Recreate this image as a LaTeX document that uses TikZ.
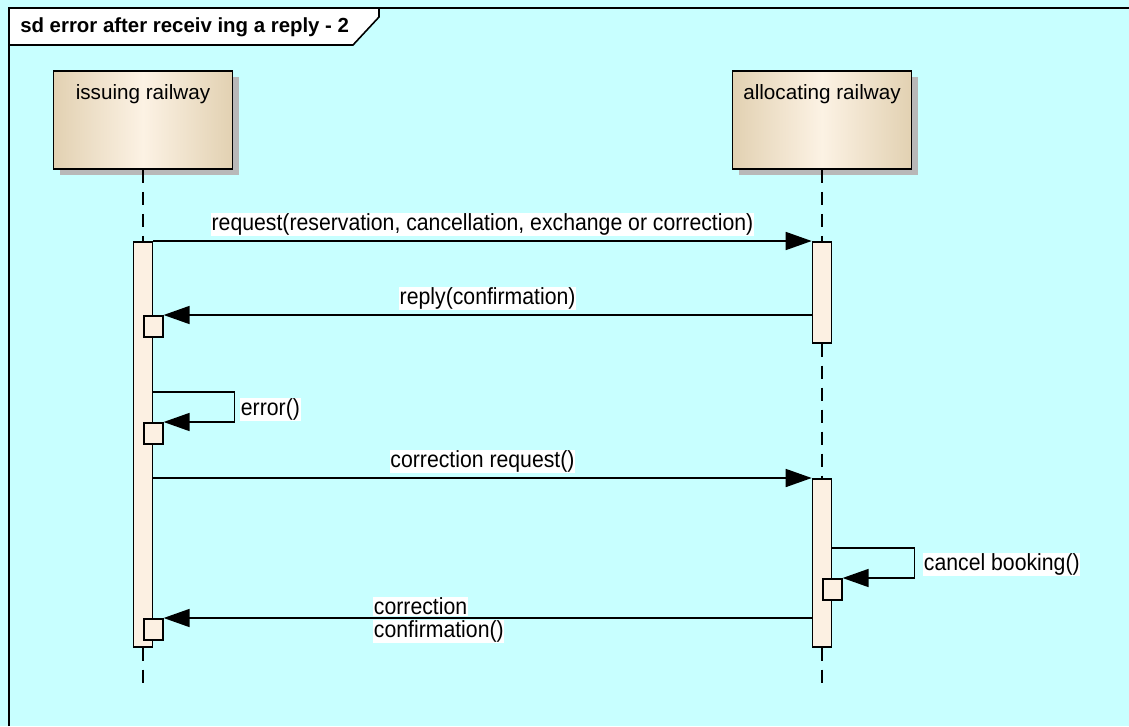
\documentclass[tikz,border=0pt]{standalone}
\usepackage{fontspec}
\setmainfont{Liberation Sans}
\newfontfamily\msgfont[FakeStretch=0.91]{Liberation Sans}
\usetikzlibrary{positioning, shadows, calc, arrows.meta}

\begin{document}
\begin{tikzpicture}[x=0.75pt,y=-0.75pt,
  actor/.style={draw=black,line width=1.2pt,minimum width=134.25pt,minimum height=73.5pt,inner sep=0pt,
    left color=boxEdge,right color=boxEdge,middle color=boxMid,
    drop shadow={shadow xshift=4.5pt,shadow yshift=-4.5pt,fill=black!28,opacity=1}},
  actorText/.style={font=\fontsize{15.5pt}{18pt}\selectfont,inner sep=0pt},
  lifeline/.style={draw=black,line width=1.2pt,dash pattern=on 9.75pt off 6.75pt},
  bar/.style={draw=black,line width=1.2pt,fill=barFill,minimum width=14.25pt,inner sep=0pt},
  execBox/.style={bar,minimum height=15.75pt},
  msg/.style={draw=black,line width=1.2pt,-{Triangle[length=19.5pt,width=13.5pt]}},
  msgText/.style={fill=white,inner sep=0.5pt,font=\msgfont\fontsize{17.5pt}{20pt}\selectfont},
  titleText/.style={font=\fontsize{15.3pt}{18pt}\selectfont\bfseries,inner sep=0pt,anchor=west}]
\definecolor{bgCyan}{RGB}{200,255,255}
\definecolor{boxEdge}{RGB}{226,209,178}
\definecolor{boxMid}{RGB}{252,242,228}
\definecolor{barFill}{RGB}{252,240,226}

\path[use as bounding box,fill=bgCyan] (0,0) rectangle (1129,726);

% frame and title
\path[draw=black,line width=1.2pt] (9,726) -- (9,8) -- (1129,8);
\path[draw=black,line width=1.2pt,fill=white] (9,8) -- (379,8) -- (379,17) -- (353,45) -- (9,45) -- cycle;
\node[titleText] (title) at (20,27) {sd error after receiv ing a reply - 2};

% lifeline heads
\node[actor] (issuing) at (143,120) {};
\node[actorText, below=10.5pt of issuing.north] (issuingLabel) {issuing railway};
\node[actor] (allocating) at (822,120) {};
\node[actorText, below=10.5pt of allocating.north] (allocatingLabel) {allocating railway};

% activations
\node[bar, minimum height=303.75pt, anchor=north] (issBar) at (143,241) {};
\node[bar, minimum height=75.75pt, anchor=north] (allocBarA) at (822,241) {};
\node[bar, minimum height=126pt, anchor=north] (allocBarB) at (822,478) {};
\coordinate (issEnd) at (143,685);
\coordinate (allocEnd) at (822,685);

% lifelines
\path[lifeline] (issuing.south) -- (issBar.north);
\path[lifeline] (issBar.south) -- (issEnd);
\path[lifeline] (allocating.south) -- (allocBarA.north);
\path[lifeline] (allocBarA.south) -- (allocBarB.north);
\path[lifeline] (allocBarB.south) -- (allocEnd);

% redraw bars over dashes
\node[bar, minimum height=303.75pt, anchor=north] at (143,241) {};
\node[bar, minimum height=75.75pt, anchor=north] at (822,241) {};
\node[bar, minimum height=126pt, anchor=north] at (822,478) {};

\node[execBox, anchor=north west] (replyBox) at (143,315) {};
\node[execBox, anchor=north west] (errorBox) at (143,422) {};
\node[execBox, anchor=north west] (confirmBox) at (143,618) {};
\node[execBox, anchor=north west] (cancelBox) at (822,578) {};

% messages
\draw[msg] (issBar.north east) -- (allocBarA.north west)
  node[msgText, midway, above=3pt] (requestLabel) {request(reservation, cancellation, exchange or correction)};
\draw[msg] (allocBarA.west |- replyBox.north) -- (replyBox.north east)
  node[msgText, midway, above=3pt] (replyLabel) {reply(confirmation)};
\draw[msg] ([yshift=22.5pt]errorBox.north -| issBar.east) -- ++(81,0) |- (errorBox.north east);
\node[msgText, anchor=south west] (errorLabel) at (240,421) {error()};
\draw[msg] (allocBarB.north west -| issBar.east) -- (allocBarB.north west)
  node[msgText, midway, above=3pt] (corrReqLabel) {correction request()};
\draw[msg] ([yshift=22.5pt]cancelBox.north -| allocBarB.east) -- ++(82,0) |- (cancelBox.north east);
\node[msgText, anchor=south west] (cancelLabel) at (923,576) {cancel booking()};
\draw[msg] (allocBarB.west |- confirmBox.north) -- (confirmBox.north east);
\node[msgText, anchor=south west] (confirmLabelA) at (373,616) {correction};
\node[msgText, anchor=north west] (confirmLabelB) at (373,620) {confirmation()};
\end{tikzpicture}
\end{document}
